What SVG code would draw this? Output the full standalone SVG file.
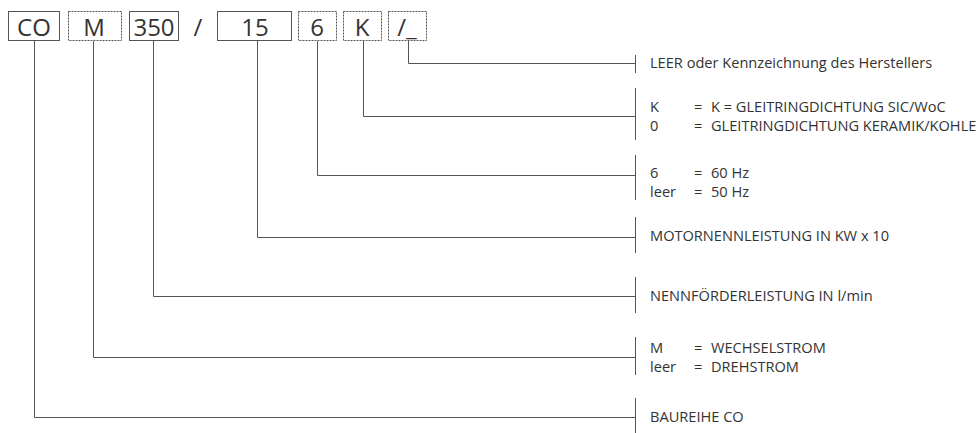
<svg xmlns="http://www.w3.org/2000/svg" width="980" height="433" viewBox="0 0 980 433">
<style>
.bg{fill:#fff}
.box{fill:none;stroke:#555;stroke-width:1}
.dbox{fill:none;stroke:#555;stroke-width:1;stroke-dasharray:2 1}
.big{font-family:"Open Sans","Liberation Sans",sans-serif;font-size:24px;fill:#333;text-anchor:middle}
.t{font-family:"Open Sans","Liberation Sans",sans-serif;font-size:14.6px;fill:#333}
.ln{fill:none;stroke:#555;stroke-width:1}
</style>
<rect class="bg" x="0" y="0" width="980" height="433"/>
<g id="node-CO"><rect class="box" x="8.5" y="11.5" width="51" height="29"/><text class="big" x="34" y="35.5">CO</text></g>
<g id="node-M"><rect class="dbox" x="68.5" y="11.5" width="53" height="29"/><text class="big" x="94" y="35.5">M</text></g>
<g id="node-350"><rect class="box" x="129.5" y="11.5" width="49" height="29"/><text class="big" x="154" y="35.5">350</text></g>
<g id="node-slash"><text class="big" x="198" y="35.5">/</text></g>
<g id="node-15"><rect class="box" x="217.5" y="11.5" width="74" height="29"/><text class="big" x="255" y="35.5">15</text></g>
<g id="node-6"><rect class="dbox" x="298.5" y="11.5" width="38" height="29"/><text class="big" x="317" y="35.5">6</text></g>
<g id="node-K"><rect class="dbox" x="343.5" y="11.5" width="38" height="29"/><text class="big" x="362" y="35.5">K</text></g>
<g id="node-end"><rect class="dbox" x="388.5" y="11.5" width="38" height="29"/><text class="big" x="407" y="35.5">/_</text></g>
<g id="connectors">
<path class="ln" d="M408.5 41V63.5H635.5M635.5 55V73"/>
<path class="ln" d="M363.5 41V116.5H635.5M635.5 88V140"/>
<path class="ln" d="M317.5 41V175.5H635.5M635.5 155V200"/>
<path class="ln" d="M257.5 41V237.5H635.5M635.5 217V253"/>
<path class="ln" d="M153.5 41V296.5H635.5M635.5 277V313"/>
<path class="ln" d="M93.5 41V357.5H635.5M635.5 337V375"/>
<path class="ln" d="M34.5 41V417.5H635.5M635.5 398V433"/>
</g>
<g id="legend-end"><text class="t" x="650" y="68">LEER oder Kennzeichnung des Herstellers</text></g>
<g id="legend-K">
<text class="t" x="650" y="112">K</text><text class="t" x="694" y="112">=</text><text class="t" x="711" y="112">K = GLEITRINGDICHTUNG SIC/WoC</text>
<text class="t" x="650" y="131">0</text><text class="t" x="694" y="131">=</text><text class="t" x="711" y="131">GLEITRINGDICHTUNG KERAMIK/KOHLE</text>
</g>
<g id="legend-6">
<text class="t" x="650" y="178">6</text><text class="t" x="694" y="178">=</text><text class="t" x="711" y="178">60 Hz</text>
<text class="t" x="650" y="197">leer</text><text class="t" x="694" y="197">=</text><text class="t" x="711" y="197">50 Hz</text>
</g>
<g id="legend-15"><text class="t" x="650" y="241">MOTORNENNLEISTUNG IN KW x 10</text></g>
<g id="legend-350"><text class="t" x="650" y="301">NENNFÖRDERLEISTUNG IN l/min</text></g>
<g id="legend-M">
<text class="t" x="650" y="353">M</text><text class="t" x="694" y="353">=</text><text class="t" x="711" y="353">WECHSELSTROM</text>
<text class="t" x="650" y="372">leer</text><text class="t" x="694" y="372">=</text><text class="t" x="711" y="372">DREHSTROM</text>
</g>
<g id="legend-CO"><text class="t" x="650" y="422">BAUREIHE CO</text></g>
</svg>
